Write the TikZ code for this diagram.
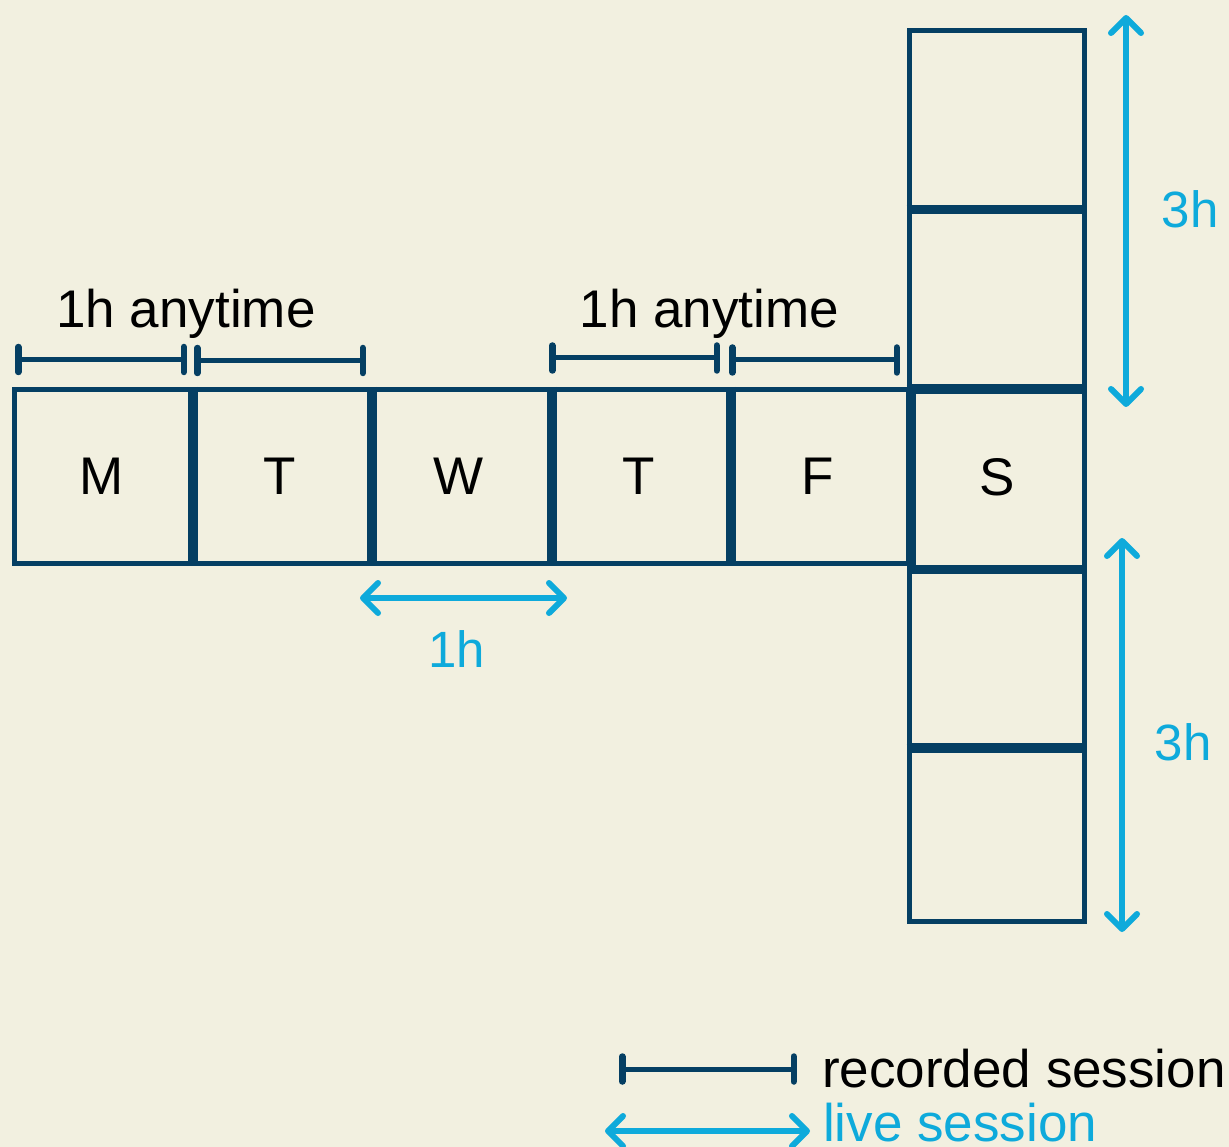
\documentclass[tikz,border=0pt]{standalone}
\usepackage{fontspec}
\setmainfont{Liberation Sans}
\usetikzlibrary{arrows.meta}
\definecolor{navy}{HTML}{053F63}
\definecolor{sky}{HTML}{0EAADB}
\definecolor{bg}{HTML}{F2F0E0}
\begin{document}
\begin{tikzpicture}[x=1pt,y=-1pt,
  cell/.style={draw=navy,line width=5pt,rectangle,inner sep=0pt,font=\fontsize{53}{60}\selectfont},
  divider/.style={navy,line width=10pt},
  rec/.style={navy,line width=5pt,{Bar[width=25pt,line width=6.5pt,round]}-{Bar[width=25pt,line width=6.5pt,round]}},
  live/.style={sky,line width=6pt,{Straight Barb[length=15pt,width=30pt,line width=6pt,round]}-{Straight Barb[length=15pt,width=30pt,line width=6pt,round]}},
  lbl/.style={inner sep=0pt,anchor=base,font=\fontsize{53}{60}\selectfont},
  bluelbl/.style={lbl,text=sky,font=\fontsize{51}{60}\selectfont}]
\fill[bg] (0,0) rectangle (1229,1147);
\useasboundingbox (0,0) rectangle (1229,1147);

% week row
\node[cell,minimum width=176pt,minimum height=174pt] (mon) at (102,476.5) {M};
\node[cell,minimum width=179pt,minimum height=174pt] (tue) at (279.5,476.5) {T};
\node[cell,minimum width=180pt,minimum height=174pt] (wed) at (459,476.5) {W};
\node[cell,minimum width=179pt,minimum height=174pt] (thu) at (638.5,476.5) {T};
\node[cell,minimum width=180pt,minimum height=174pt] (fri) at (818,476.5) {F};
% saturday column
\node[cell,minimum width=175.5pt,minimum height=176.5pt] (s1) at (996.75,119.25) {};
\node[cell,minimum width=175.5pt,minimum height=179.5pt] (s2) at (996.75,297.25) {};
\node[cell,minimum width=175.5pt,minimum height=180pt] (sat) at (996.75,477) {S};
\node[cell,minimum width=175.5pt,minimum height=178.5pt] (s4) at (996.75,656.25) {};
\node[cell,minimum width=175.5pt,minimum height=176pt] (s5) at (996.75,833.5) {};

% thick dividers
\foreach \a in {mon,tue,wed,thu,fri}{
  \draw[divider] (\a.north east) -- (\a.south east);
}
\foreach \a in {s1,s2,sat,s4}{
  \draw[navy,line width=9pt] (\a.south west) -- (\a.south east);
}

% recorded sessions
\coordinate (r1a) at (15,359.5);
\coordinate (r1b) at (187,359.5);
\coordinate (r2a) at (194,360.5);
\coordinate (r2b) at (366,360.5);
\coordinate (r3a) at (549,358);
\coordinate (r3b) at (720,358);
\coordinate (r4a) at (729,360);
\coordinate (r4b) at (900,360);
\draw[rec] (r1a) -- (r1b);
\draw[rec] (r2a) -- (r2b);
\draw[rec] (r3a) -- (r3b);
\draw[rec] (r4a) -- (r4b);
\node[lbl] (any1) at (186,328) {1h anytime};
\node[lbl] (any2) at (709.5,328) {1h anytime};

% live sessions
\coordinate (l1a) at (1126,15);
\coordinate (l1b) at (1126,407);
\coordinate (l2a) at (1122,538);
\coordinate (l2b) at (1122,932);
\coordinate (l3a) at (360,598);
\coordinate (l3b) at (567,598);
\draw[live] (l1a) -- (l1b);
\draw[live] (l2a) -- (l2b);
\draw[live] (l3a) -- (l3b);
\node[bluelbl] (h3a) at (1190,228) {3h};
\node[bluelbl] (h3b) at (1183,760) {3h};
\node[bluelbl] (h1) at (457,667) {1h};

% legend
\coordinate (lga) at (619,1069);
\coordinate (lgb) at (797,1069);
\coordinate (lla) at (605,1131);
\coordinate (llb) at (810,1131);
\draw[rec] (lga) -- (lgb);
\draw[live] (lla) -- (llb);
\node[lbl,anchor=base west] (lgrec) at (822,1087) {recorded session};
\node[lbl,anchor=base west,text=sky] (lglive) at (823,1141) {live session};
\end{tikzpicture}
\end{document}
